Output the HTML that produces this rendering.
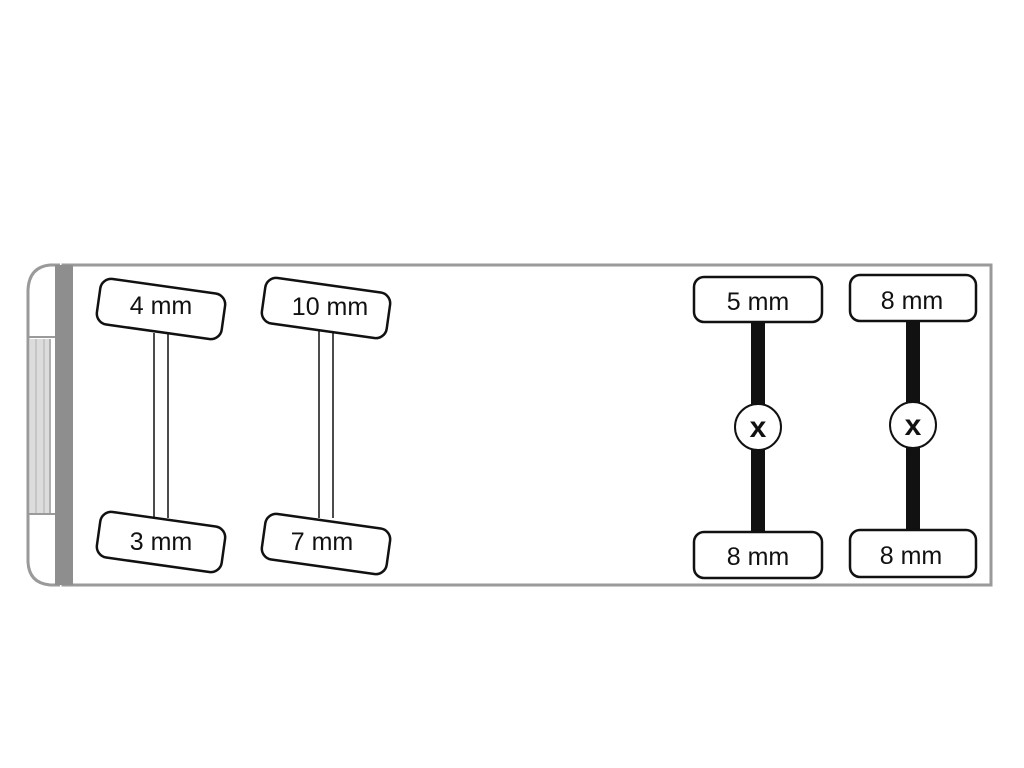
<!DOCTYPE html>
<html><head><meta charset="utf-8"><style>html,body{margin:0;padding:0;background:#fff}svg{display:block}</style></head>
<body>
<svg width="1024" height="768" viewBox="0 0 1024 768" xmlns="http://www.w3.org/2000/svg">
<rect width="1024" height="768" fill="#fff"/>
<rect x="63" y="265" width="928" height="320" fill="#fff" stroke="#9a9a9a" stroke-width="3"/>
<path d="M60 265 H50 Q29 267 28 290 V562 Q29 583 50 585 H60" fill="#fff" stroke="#9a9a9a" stroke-width="3"/>
<rect x="55" y="265" width="18" height="320" fill="#8e8e8e"/>
<line x1="29" y1="337" x2="55" y2="337" stroke="#9a9a9a" stroke-width="2"/>
<line x1="29" y1="514" x2="55" y2="514" stroke="#9a9a9a" stroke-width="2"/>
<rect x="30" y="339" width="20" height="174" fill="#dcdcdc"/>
<line x1="36" y1="339" x2="36" y2="513" stroke="#b0b0b0" stroke-width="1"/>
<line x1="44" y1="339" x2="44" y2="513" stroke="#b0b0b0" stroke-width="1"/>
<line x1="50" y1="339" x2="50" y2="513" stroke="#b0b0b0" stroke-width="2"/>
<g stroke="#111" stroke-width="1.5" fill="none">
<line x1="154" y1="333" x2="154" y2="518"/><line x1="168" y1="333" x2="168" y2="518"/>
<line x1="319" y1="330" x2="319" y2="518"/><line x1="333" y1="330" x2="333" y2="518"/>
</g>
<g font-family="Liberation Sans, sans-serif" font-size="25" fill="#111" text-anchor="middle">
<g transform="translate(161,309) rotate(8)"><rect x="-63" y="-23" width="126" height="46" rx="11" fill="#fff" stroke="#111" stroke-width="2.5"/></g>
<text x="161" y="314">4 mm</text>
<g transform="translate(161,542) rotate(8)"><rect x="-63" y="-23" width="126" height="46" rx="11" fill="#fff" stroke="#111" stroke-width="2.5"/></g>
<text x="161" y="550">3 mm</text>
<g transform="translate(326,308) rotate(8)"><rect x="-63" y="-23" width="126" height="46" rx="11" fill="#fff" stroke="#111" stroke-width="2.5"/></g>
<text x="330" y="315">10 mm</text>
<g transform="translate(326,544) rotate(8)"><rect x="-63" y="-23" width="126" height="46" rx="11" fill="#fff" stroke="#111" stroke-width="2.5"/></g>
<text x="322" y="550">7 mm</text>
<rect x="751" y="320" width="14" height="213" fill="#111"/>
<rect x="906" y="319" width="14" height="212" fill="#111"/>
<rect x="694" y="277" width="128" height="45" rx="10" fill="#fff" stroke="#111" stroke-width="2.5"/>
<text x="758" y="310">5 mm</text>
<rect x="850" y="275" width="126" height="46" rx="10" fill="#fff" stroke="#111" stroke-width="2.5"/>
<text x="912" y="309">8 mm</text>
<rect x="694" y="532" width="128" height="46" rx="10" fill="#fff" stroke="#111" stroke-width="2.5"/>
<text x="758" y="565">8 mm</text>
<rect x="850" y="530" width="126" height="47" rx="10" fill="#fff" stroke="#111" stroke-width="2.5"/>
<text x="911" y="564">8 mm</text>
<circle cx="758" cy="427" r="23" fill="#fff" stroke="#111" stroke-width="2"/>
<text x="758" y="437" font-weight="bold" font-size="30">x</text>
<circle cx="913" cy="425" r="23" fill="#fff" stroke="#111" stroke-width="2"/>
<text x="913" y="435" font-weight="bold" font-size="30">x</text>
</g>
</svg>
</body></html>
